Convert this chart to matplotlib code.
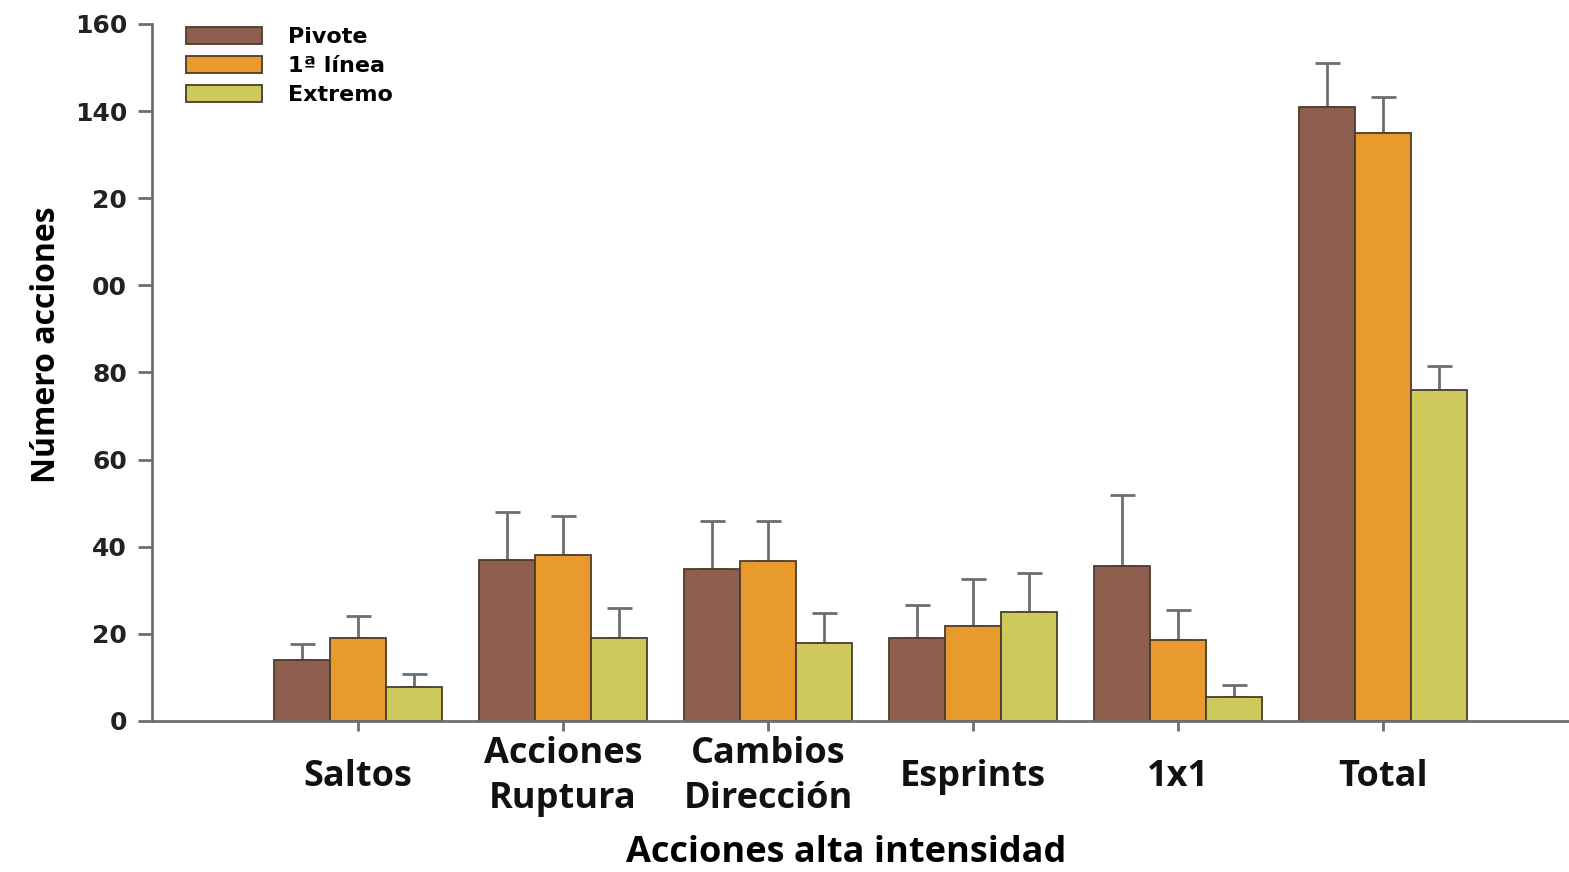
import matplotlib
matplotlib.use("Agg")
import matplotlib.pyplot as plt
import numpy as np

categorias = ["Saltos", "Acciones\nRuptura", "Cambios\nDirección", "Esprints", "1x1", "Total"]
grupos = ["Pivote", "1ª línea", "Extremo"]

# medias
pivote = [14, 37, 35, 19, 35.6, 141]
primera = [19, 38, 36.7, 21.8, 18.7, 135]
extremo = [7.8, 19, 18, 25, 5.6, 76]

# extremo superior de cada barra de error
pivote_err = [3.7, 11, 11, 7.6, 16.3, 10]
primera_err = [5.1, 9, 9.3, 10.8, 6.7, 8.2]
extremo_err = [3, 7, 6.8, 9, 2.7, 5.5]

yticks = [0, 20, 40, 60, 80, 100, 120, 140, 160]
ytick_labels = ["0", "20", "40", "60", "80", "00", "20", "140", "160"]

colores = ["#8e5f4f", "#e99a2d", "#cdc95a"]
gris = "#6e6e6e"

fig = plt.figure(figsize=(15.69, 8.72), dpi=100)
ax = fig.add_axes([0.0969, 0.1732, 0.9031, 0.7993])

x = np.arange(len(categorias))
w = 0.273
series = [pivote, primera, extremo]
errores = [pivote_err, primera_err, extremo_err]
for i in range(3):
    pos = x + (i - 1) * w
    ax.bar(pos, series[i], w, color=colores[i], edgecolor="#4d3b2e", linewidth=1.3,
           label=grupos[i], zorder=2)
    e = np.array(errores[i])
    ax.errorbar(pos, series[i], yerr=[np.zeros_like(e), e], fmt="none",
                ecolor=gris, elinewidth=2, capsize=9, capthick=2, zorder=1)

ax.set_xlim(-1.005, 5.907)
ax.set_ylim(0, 160)

ax.spines["top"].set_visible(False)
ax.spines["right"].set_visible(False)
for s in ["left", "bottom"]:
    ax.spines[s].set_color(gris)
    ax.spines[s].set_linewidth(2)

ax.set_yticks(yticks)
ax.set_yticklabels(ytick_labels, fontsize=18, fontweight="bold", color="#222222",
                   family="DejaVu Sans")
ax.tick_params(axis="y", length=10, width=2, color=gris, pad=8)

ax.set_xticks(x)
ax.set_xticklabels(categorias, fontsize=26, fontweight="bold", family=["Open Sans", "DejaVu Sans"],
                   va="center", linespacing=1.3, color="#111111")
ax.tick_params(axis="x", length=7, width=2, color=gris, pad=33)

ax.set_ylabel("Número acciones", fontsize=23, fontweight="bold",
              family=["Liberation Sans Narrow", "Open Sans", "DejaVu Sans"])
ax.yaxis.set_label_coords(-0.063, 0.54)
ax.set_xlabel("Acciones alta intensidad", fontsize=26, fontweight="bold",
              family=["Open Sans", "DejaVu Sans"])
ax.xaxis.set_label_coords(0.49, -0.163)

leg = ax.legend(loc="upper left", bbox_to_anchor=(0.01, 1.025), frameon=False,
                prop={"family": "DejaVu Sans", "weight": "bold", "size": 16},
                handlelength=3.4, handleheight=0.85, handletextpad=1.2, labelspacing=0.38)

fig.savefig("out.png", dpi=100)
